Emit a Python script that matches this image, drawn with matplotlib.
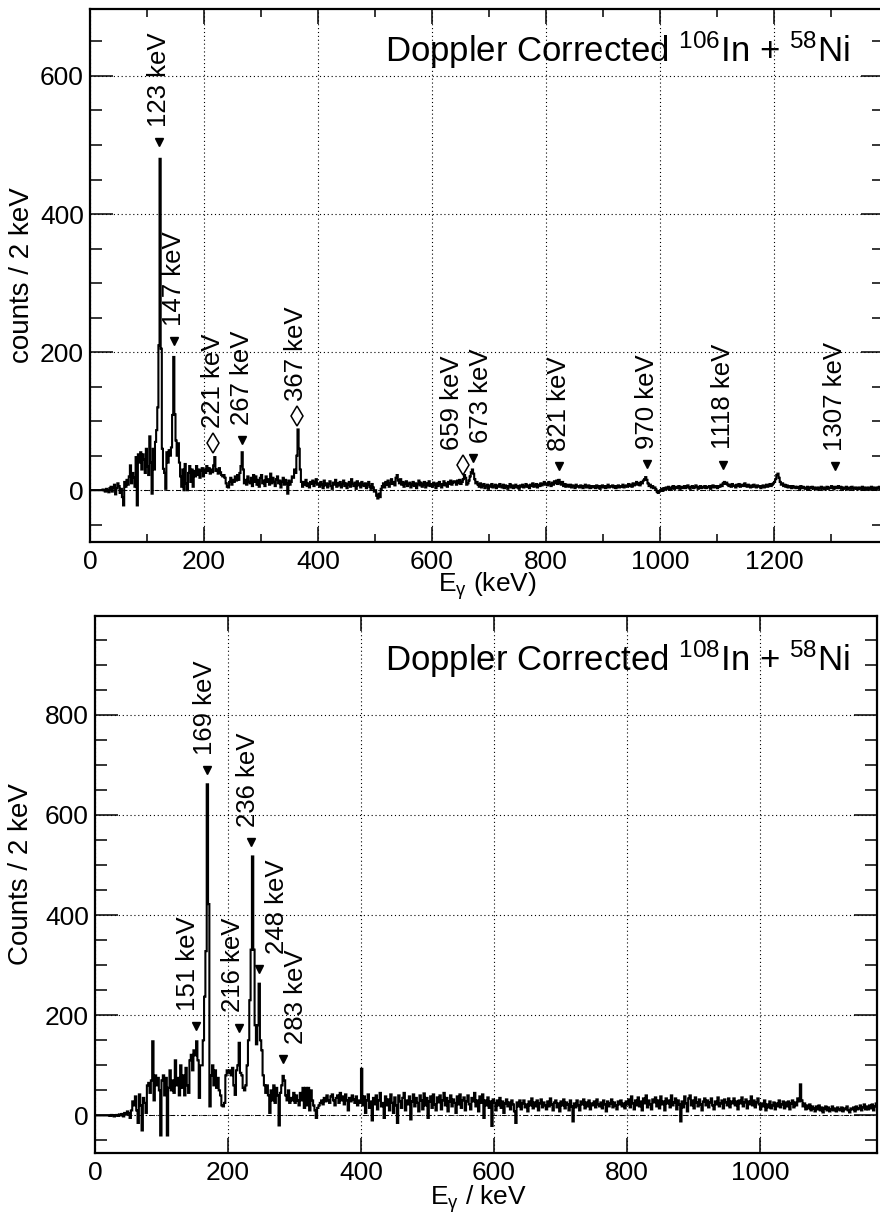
import numpy as np
import matplotlib
matplotlib.use('Agg')
import matplotlib.pyplot as plt
from matplotlib.ticker import MultipleLocator

plt.rcParams['font.family'] = ['Liberation Sans', 'DejaVu Sans']
plt.rcParams['mathtext.fontset'] = 'custom'
plt.rcParams['mathtext.rm'] = 'Liberation Sans'
plt.rcParams['mathtext.it'] = 'Liberation Sans:italic'
plt.rcParams['mathtext.bf'] = 'Liberation Sans:bold'
plt.rcParams['mathtext.default'] = 'regular'

BIN = 2  # keV per bin

# 106In + 58Ni, counts per 2 keV bin starting at 0 keV
counts_106 = [
    0, 0, 0, 0, 0, 0, 0, 0, 0, 0, 0, 1, 0, -2, 2, 0, -3, 3, 5, -2,
    4, 8, -6, 3, 10, 6, -4, 2, -10, -22, 12, 5, 15, 8, 20, 36, 10, 25, 18, 5,
    48, -22, 52, 40, 55, 30, 52, 45, 25, 60, 35, 22, 78, 40, -5, 60, 30, 70, 87, 120,
    210, 480, 205, 60, 31, 25, 2, 55, 40, 58, 50, 62, 109, 193, 110, 72, 50, 68, 40, 20,
    5, 30, 0, 38, 10, 0, 25, 35, 12, 30, 5, 28, 20, 35, 22, 30, 18, 28, 32, 20,
    30, 25, 35, 28, 32, 24, 30, 26, 36, 48, 28, 30, 24, 32, 26, 22, 20, 22, 18, 10,
    5, 4, 12, 18, 8, 15, 12, 20, 14, 22, 15, 25, 35, 55, 30, 10, 15, 8, 20, 12,
    10, 18, 6, 22, 12, 20, 8, 15, 5, 18, 22, 10, 14, 6, 20, 12, 16, 8, 24, 10,
    18, 12, 6, 16, 20, 10, 14, 4, 12, 18, 8, 15, 10, -5, 14, 8, 12, 20, 18, 30,
    25, 50, 88, 60, 30, 12, 5, 12, 8, 15, 6, 10, 4, 12, 9, 14, 6, 11, 16, 8,
    10, 5, 12, 8, 3, 14, 7, 10, 4, 9, 13, 6, 2, 11, 8, 15, 5, 10, 7, 12,
    4, 9, 14, 6, 10, 3, 8, 12, 5, 16, 9, 6, 11, 2, 13, 7, 10, 4, 12, 8,
    6, 10, 3, 8, 12, 5, 2, 9, 4, -2, 0, -8, -12, -5, -10, 2, 6, 10, 4, 12,
    8, 14, 5, 10, 16, 9, 12, 7, 18, 22, 14, 10, 16, 8, 12, 5, 10, 13, 6, 9,
    11, 4, 8, 12, 6, 10, 3, 9, 14, 7, 11, 5, 8, 12, 4, 10, 7, 13, 6, 9,
    5, 11, 8, 3, 10, 6, 12, 9, 4, 8, 13, 7, 10, 5, 12, 9, 14, 8, 11, 13,
    12, 8, 14, 10, 15, 9, 12, 16, 22, 18, 8, 10, 14, 20, 26, 30, 24, 16, 10, 12,
    8, 5, 10, 4, 7, 9, 3, 6, 8, 2, 7, 5, 9, 4, 6, 8, 3, 7, 5, 9,
    6, 4, 8, 3, 7, 5, 2, 6, 9, 4, 7, 3, 5, 8, 4, 6, 2, 7, 5, 8,
    4, 6, 9, 5, 7, 3, 8, 6, 10, 5, 7, 9, 4, 8, 6, 10, 7, 9, 12, 8,
    10, 7, 12, 9, 6, 11, 8, 13, 10, 14, 9, 15, 11, 8, 12, 6, 9, 5, 8, 7,
    5, 8, 4, 7, 6, 3, 8, 5, 6, 4, 7, 5, 3, 6, 8, 4, 5, 7, 3, 6,
    4, 6, 5, 3, 7, 4, 6, 2, 5, 7, 4, 6, 3, 5, 8, 4, 6, 5, 7, 4,
    6, 3, 5, 7, 4, 6, 5, 8, 4, 6, 7, 5, 9, 6, 8, 5, 10, 7, 9, 12,
    8, 10, 7, 12, 10, 14, 16, 19, 15, 10, 6, 8, 4, 6, 3, 4, 1, -2, -4, -2,
    0, 2, -1, 3, 1, 4, 2, 5, 3, 1, 4, 6, 2, 5, 3, 4, 6, 2, 5, 3,
    4, 6, 3, 5, 7, 4, 2, 5, 6, 3, 4, 7, 5, 2, 4, 6, 3, 5, 4, 6,
    3, 5, 4, 6, 2, 5, 7, 4, 6, 5, 3, 6, 5, 8, 6, 10, 12, 9, 11, 8,
    6, 8, 5, 9, 6, 7, 4, 8, 6, 9, 5, 7, 8, 6, 10, 7, 5, 8, 6, 4,
    7, 5, 8, 6, 4, 7, 5, 6, 3, 5, 7, 4, 6, 8, 5, 7, 9, 6, 8, 10,
    12, 16, 22, 24, 18, 12, 8, 10, 6, 8, 5, 7, 4, 6, 5, 3, 6, 4, 5, 3,
    5, 4, 2, 6, 3, 5, 4, 2, 3, 5, 1, 4, 3, 5, 2, 4, 3, 1, 4, 2,
    3, 5, 2, 4, 1, 3, 5, 2, 4, 3, 6, 4, 2, 5, 3, 4, 6, 3, 5, 2,
    4, 2, 3, 5, 1, 3, 4, 2, 5, 3, 2, 4, 3, 1, 4, 2, 3, 5, 2, 4,
    3, 1, 4, 2, 3, 5, 2, 4, 3, 2, 4, 3, 5, 2, 4, 3, 2, 4, 3, 5,
]

# 108In + 58Ni, counts per 2 keV bin starting at 0 keV
counts_108 = [
    0, 0, 0, 0, 0, 0, 0, 0, 0, 0, 0, -1, 1, 0, -2, 0, 1, -1, 2, 0,
    3, -2, 5, 2, 8, 4, -5, 10, 28, 20, 38, 10, -15, 42, 20, -30, 35, 25, 5, 60,
    65, 45, 70, 148, 30, 80, 60, 75, 50, -40, 70, 80, 40, 75, -40, 55, 90, 50, 70, 45,
    110, 60, 75, 40, 100, 55, 80, 40, 95, 60, 45, 110, 121, 90, 130, 120, 148, 110, 35, 100,
    100, 150, 237, 328, 661, 422, 18, 80, 100, 60, 90, 55, 75, 50, 40, 20, 18, 25, 80, 90,
    85, 90, 80, 95, 60, 41, 90, 100, 145, 85, 80, 55, 50, 60, 100, 150, 230, 331, 517, 331,
    180, 142, 180, 263, 150, 130, 80, 60, 45, 60, 40, 5, 50, 30, 60, 25, 55, 40, -20, 45,
    60, 79, 70, 40, 30, 50, 25, 35, 30, 45, 25, 40, 30, 20, 45, 30, 55, 15, 55, 20,
    55, 10, 50, 30, 20, 10, -5, 15, 20, 25, 30, 22, 35, 28, 40, 30, 25, 38, 42, 30,
    20, 35, 40, 25, 45, 30, 38, 22, 42, 30, 10, 35, 28, 40, 32, 25, 38, 20, 30, 25,
    93, 20, 38, 5, 30, 42, 15, 28, -10, 35, 22, 40, 12, 30, 45, 18, 25, -5, 38, 20,
    32, 10, 42, 25, 5, 36, 20, -15, 40, 28, 15, 35, 45, 10, 30, 22, 38, -8, 28, 42,
    18, 35, 25, 8, 40, 30, 12, 44, 20, 35, -5, 28, 38, 15, 42, 22, 10, 36, 26, 40,
    12, 30, 45, 20, 35, 8, 28, 40, 18, 32, 25, 5, 38, 22, 42, 15, 30, 36, 10, 28,
    40, 22, 12, 35, 28, 45, 18, 30, 8, 38, 25, 42, -5, 30, 20, 36, 15, 28, -21, 32,
    25, 10, 30, 20, 35, 15, 28, 5, 24, 32, 18, 26, 12, 30, 22, 8, -15, 26, 18, 30,
    12, 24, 30, 16, 22, 8, 28, 20, 34, 14, 26, 18, 30, 10, 24, 32, 16, 26, 20, 12,
    28, 18, 34, 22, 10, 26, 30, 16, 24, 8, 28, 20, 32, 14, 26, 22, 10, 30, 18, -12,
    24, 16, 30, 20, 10, 28, 22, 32, 14, 26, 18, 30, 12, 24, 20, 28, 16, 32, 22, 18,
    26, 14, 30, 22, 8, 28, 18, 24, 32, 16, 26, 20, 12, 28, 22, 30, 18, 24, 14, 28,
    22, 32, 16, 38, 24, 12, 30, 20, 36, 18, 28, 10, 34, 24, 40, 16, 30, 22, 12, 32,
    26, 36, 18, 30, 14, 38, 22, 28, 10, 34, 24, 30, 16, 40, 20, 26, 34, 12, 30, 22,
    -12, 28, 16, 38, 24, 8, 34, 40, 20, 30, 14, 36, 26, 18, 32, 22, 10, 28, 34, 20,
    30, 16, 26, 34, 20, 12, 28, 22, 36, 18, 24, 30, 14, 32, 26, 20, 34, 16, 28, 24,
    34, 20, 28, 12, 30, 24, 36, 18, 26, 32, 14, 28, 22, 38, 20, 30, 16, 26, 34, 22,
    12, 24, 18, 30, 10, 22, 16, 28, 14, 20, 26, 12, 24, 18, 30, 16, 22, 28, 14, 26,
    18, 28, 12, 24, 30, 16, 26, 20, 34, 28, 62, 30, 18, 24, 12, 20, 14, 22, 10, 18,
    14, 8, 18, 12, 20, 10, 16, 6, 14, 18, 10, 16, 8, 12, 18, 10, 14, 8, 16, 12,
    10, 16, 8, 14, 12, 18, 10, 6, 14, 12, 16, 8, 18, 12, 14, 20, 10, 16, 22, 12,
    18, 12, 20, 14, 22, 10, 18, 24, 14, 20, 16, 22, 12, 18, 20, 14, 18, 16, 20, 14,
]

# peak markers: label, marker energy, marker height, marker kind
labels_106 = ['123 keV', '147 keV', '221 keV', '267 keV', '367 keV', '659 keV',
              '673 keV', '821 keV', '970 keV', '1118 keV', '1307 keV']
mark_x_106 = [121, 147, 216, 267, 364, 654, 672, 823, 977, 1111, 1307]
mark_y_106 = [504, 216, 68, 73, 107, 36, 46, 35, 38, 37, 35]
kind_106 = ['v', 'v', 'd', 'v', 'd', 'd', 'v', 'v', 'v', 'v', 'v']

labels_108 = ['151 keV', '169 keV', '216 keV', '236 keV', '248 keV', '283 keV']
mark_x_108 = [152, 168, 216.5, 235, 246.5, 282]
mark_y_108 = [178, 689, 175, 545, 292, 112]
kind_108 = ['v', 'v', 'v', 'v', 'v', 'v']

# horizontal shift of the rotated label w.r.t. its marker (points)
shift_106 = [0, 0, 0, 0, -1, -8, 6, 0, 0, 0, 0]
shift_108 = [-6, -1, -4, -2, 13, 10]


def style_axes(ax, xlim, ylim, xmajor, xminor):
    ax.set_xlim(*xlim)
    ax.set_ylim(*ylim)
    ax.xaxis.set_major_locator(MultipleLocator(xmajor))
    if xminor:
        ax.xaxis.set_minor_locator(MultipleLocator(xminor))
    ax.yaxis.set_major_locator(MultipleLocator(200))
    ax.yaxis.set_minor_locator(MultipleLocator(50))
    ax.tick_params(which='both', direction='in', top=True, right=True,
                   width=1.1, labelsize=19)
    ax.tick_params(axis='y', which='major', length=16.5, pad=4.5)
    ax.tick_params(axis='y', which='minor', length=8.5)
    ax.tick_params(axis='x', which='major', length=11, pad=6)
    ax.tick_params(axis='x', which='minor', length=5.5)
    for s in ax.spines.values():
        s.set_linewidth(1.6)
    ax.grid(True, which='major', color='k', ls=(0, (1, 2.5)), lw=0.8)
    ax.axhline(0, color='k', lw=0.7, ls=(0, (5, 2.5, 1, 2.5)), zorder=1)


def draw_spectrum(ax, counts):
    vals = np.array(counts, dtype=float)
    edges = np.arange(len(vals) + 1) * BIN
    ax.stairs(vals, edges, baseline=None, color='k', lw=1.5, zorder=3)


def draw_marks(ax, labels, mx, my, kinds, shifts):
    for lab, x, y, k, dx in zip(labels, mx, my, kinds, shifts):
        if k == 'v':
            ax.plot(x, y, marker='v', ms=5.3, color='k', zorder=4)
        else:
            ax.plot(x, y, marker='d', ms=10, mfc='white', mec='k', mew=1.1, zorder=4)
        ax.annotate(lab, xy=(x, y), xytext=(dx, 11), textcoords='offset points',
                    rotation=90, ha='center', va='bottom', fontsize=18.5, zorder=5)


fig = plt.figure(figsize=(8.8, 12.17), dpi=100)

# top: 106In
ax1 = fig.add_axes([90 / 880, 1 - 542 / 1217, 794 / 880, 533 / 1217])
style_axes(ax1, (0, 1393), (-75, 697), 200, 100)
draw_spectrum(ax1, counts_106)
draw_marks(ax1, labels_106, mark_x_106, mark_y_106, kind_106, shift_106)
ax1.set_xlabel(r'E$_{\gamma}$ (keV)', fontsize=19)
ax1.set_ylabel('counts / 2 keV', fontsize=20)
ax1.xaxis.set_label_coords(0.5, -0.053)
ax1.yaxis.set_label_coords(-0.069, 0.5)
ax1.text(0.957, 0.90, r'Doppler Corrected $^{106}$In + $^{58}$Ni', transform=ax1.transAxes,
         ha='right', va='baseline', fontsize=25)

# bottom: 108In
ax2 = fig.add_axes([95 / 880, 1 - 1153 / 1217, 782 / 880, 537 / 1217])
style_axes(ax2, (0, 1176), (-75, 997), 200, None)
draw_spectrum(ax2, counts_108)
draw_marks(ax2, labels_108, mark_x_108, mark_y_108, kind_108, shift_108)
ax2.set_xlabel(r'E$_{\gamma}$ / keV', fontsize=19)
ax2.set_ylabel('Counts / 2 keV', fontsize=20)
ax2.xaxis.set_label_coords(0.49, -0.057)
ax2.yaxis.set_label_coords(-0.078, 0.52)
ax2.text(0.9655, 0.898, r'Doppler Corrected $^{108}$In + $^{58}$Ni', transform=ax2.transAxes,
         ha='right', va='baseline', fontsize=25)

fig.savefig('out.png', dpi=100)
